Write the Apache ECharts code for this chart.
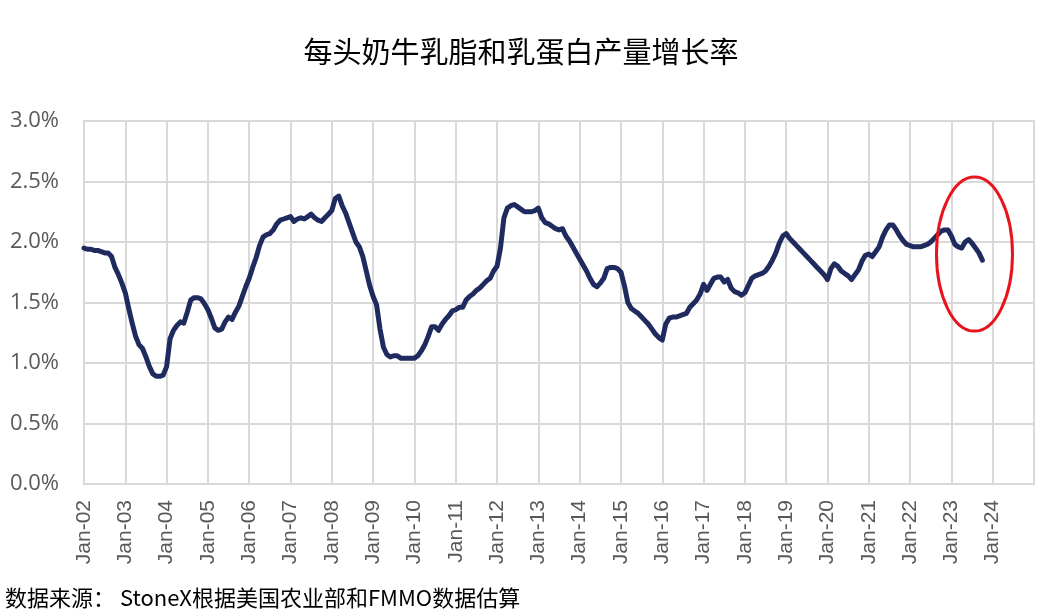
<!DOCTYPE html>
<html>
<head>
<meta charset="utf-8">
<script src="https://cdn.jsdelivr.net/npm/echarts@6/dist/echarts.min.js"></script>
<style>
  html, body { margin: 0; padding: 0; background: #ffffff; }
  #chart { width: 1042px; height: 614px; }
</style>
</head>
<body>
<div id="chart"></div>
<script>
// years on the axis (Jan-02 ... Jan-25), monthly points
const years = ["02","03","04","05","06","07","08","09","10","11","12","13","14","15","16","17","18","19","20","21","22","23","24","25"];
const monthNames = ["Jan","Feb","Mar","Apr","May","Jun","Jul","Aug","Sep","Oct","Nov","Dec"];

// 每头奶牛乳脂和乳蛋白产量增长率 (%), monthly from Jan-02 to Oct-23
const y2002 = [1.95, 1.94, 1.94, 1.93, 1.93, 1.92, 1.91, 1.91, 1.88, 1.79, 1.73, 1.66];
const y2003 = [1.58, 1.45, 1.33, 1.22, 1.15, 1.12, 1.05, 0.97, 0.91, 0.89, 0.89, 0.90];
const y2004 = [0.97, 1.20, 1.27, 1.31, 1.34, 1.33, 1.42, 1.52, 1.54, 1.54, 1.53, 1.49];
const y2005 = [1.44, 1.37, 1.29, 1.27, 1.28, 1.34, 1.38, 1.36, 1.42, 1.47, 1.55, 1.63];
const y2006 = [1.70, 1.79, 1.87, 1.97, 2.04, 2.06, 2.07, 2.10, 2.15, 2.18, 2.19, 2.20];
const y2007 = [2.21, 2.17, 2.19, 2.20, 2.19, 2.21, 2.23, 2.20, 2.18, 2.17, 2.20, 2.23];
const y2008 = [2.26, 2.36, 2.38, 2.30, 2.24, 2.16, 2.08, 2.00, 1.96, 1.88, 1.76, 1.64];
const y2009 = [1.55, 1.48, 1.28, 1.13, 1.07, 1.05, 1.06, 1.06, 1.04, 1.04, 1.04, 1.04];
const y2010 = [1.04, 1.06, 1.10, 1.15, 1.22, 1.30, 1.30, 1.27, 1.32, 1.36, 1.39, 1.43];
const y2011 = [1.44, 1.46, 1.46, 1.52, 1.55, 1.57, 1.60, 1.62, 1.65, 1.68, 1.70, 1.76];
const y2012 = [1.80, 1.95, 2.20, 2.28, 2.30, 2.31, 2.29, 2.27, 2.25, 2.25, 2.25, 2.26];
const y2013 = [2.28, 2.20, 2.16, 2.15, 2.13, 2.11, 2.10, 2.11, 2.05, 2.01, 1.96, 1.91];
const y2014 = [1.86, 1.81, 1.76, 1.70, 1.65, 1.63, 1.66, 1.70, 1.78, 1.79, 1.79, 1.78];
const y2015 = [1.75, 1.64, 1.50, 1.45, 1.43, 1.41, 1.38, 1.35, 1.32, 1.28, 1.24, 1.21];
const y2016 = [1.19, 1.32, 1.37, 1.38, 1.38, 1.39, 1.40, 1.41, 1.46, 1.49, 1.52, 1.57];
const y2017 = [1.65, 1.60, 1.65, 1.70, 1.71, 1.71, 1.67, 1.69, 1.62, 1.59, 1.58, 1.56];
const y2018 = [1.58, 1.64, 1.70, 1.72, 1.73, 1.74, 1.76, 1.80, 1.85, 1.91, 1.99, 2.05];
const y2019 = [2.07, 2.03, 2.00, 1.97, 1.94, 1.91, 1.88, 1.85, 1.82, 1.79, 1.76, 1.73];
const y2020 = [1.69, 1.78, 1.82, 1.80, 1.76, 1.74, 1.72, 1.69, 1.73, 1.77, 1.84, 1.89];
const y2021 = [1.90, 1.88, 1.92, 1.96, 2.04, 2.10, 2.14, 2.14, 2.10, 2.05, 2.01, 1.98];
const y2022 = [1.97, 1.96, 1.96, 1.96, 1.97, 1.98, 2.00, 2.03, 2.06, 2.09, 2.10, 2.10];
const y2023 = [2.05, 1.98, 1.96, 1.95, 2.00, 2.02, 1.99, 1.95, 1.91, 1.85];

// y axis ticks
const yTicks = [0, 0.5, 1.0, 1.5, 2.0, 2.5, 3.0];

const seriesValues = [].concat(
  y2002, y2003, y2004, y2005, y2006, y2007, y2008, y2009, y2010, y2011, y2012,
  y2013, y2014, y2015, y2016, y2017, y2018, y2019, y2020, y2021, y2022, y2023
);

// month categories, last one is Jan-25 (right border of the plot)
let categories = [];
for (let i = 0; i < years.length; i++) {
  for (let j = 0; j < 12; j++) {
    categories.push(monthNames[j] + "-" + years[i]);
    if (i === years.length - 1) break;
  }
}

const sourceNote = {
  type: "text",
  left: 5,
  top: 587,
  style: {
    text: "数据来源： StoneX根据美国农业部和FMMO数据估算",
    font: '22px "Noto Sans CJK SC"',
    fill: "#000000",
  },
};

var myChart = echarts.init(document.getElementById("chart"));
var option = {
  backgroundColor: "#ffffff",
  animation: false,
  title: {
    text: "每头奶牛乳脂和乳蛋白产量增长率",
    left: "center",
    top: 32,
    textStyle: {
      fontFamily: "Noto Sans CJK SC",
      fontSize: 29,
      fontWeight: "normal",
      color: "#000000",
    },
  },
  grid: {
    show: true,
    left: 84,
    right: 8,
    top: 121,
    bottom: 130,
    containLabel: false,
    borderColor: "#d9d9d9",
    borderWidth: 2,
  },
  xAxis: {
    type: "category",
    data: categories,
    boundaryGap: false,
    axisLine: { lineStyle: { color: "#d9d9d9", width: 2 } },
    axisTick: { show: false },
    splitLine: {
      show: true,
      interval: function (index) { return index % 12 === 0; },
      lineStyle: { color: "#d9d9d9", width: 2 },
    },
    axisLabel: {
      rotate: 90,
      margin: 16,
      interval: function (index) { return index % 12 === 0 && index < categories.length - 1; },
      fontFamily: "Liberation Sans",
      fontSize: 21,
      color: "#595959",
    },
  },
  yAxis: {
    type: "value",
    min: yTicks[0],
    max: yTicks[yTicks.length - 1],
    interval: 0.5,
    axisLine: { show: false },
    axisTick: { show: false },
    splitLine: { lineStyle: { color: "#d9d9d9", width: 2 } },
    axisLabel: {
      margin: 25,
      fontFamily: "Open Sans",
      fontSize: 22,
      color: "#595959",
      formatter: function (v) { return v.toFixed(1) + "%"; },
    },
  },
  series: [
    {
      name: "增长率",
      type: "line",
      data: seriesValues,
      showSymbol: false,
      smooth: false,
      color: "#1f2a5e",
      lineStyle: { width: 5, color: "#1f2a5e", join: "round", cap: "round" },
    },
  ],
  graphic: [sourceNote],
};
myChart.setOption(option);

// red ellipse around the latest months
var c = myChart.convertToPixel({ xAxisIndex: 0, yAxisIndex: 0 }, [259, 1.9]);
myChart.setOption({
  graphic: [
    sourceNote,
    {
      type: "ellipse",
      shape: { cx: c[0] - 1, cy: c[1], rx: 38, ry: 77 },
      style: { fill: "none", stroke: "#e8141c", lineWidth: 3 },
      z: 10,
    },
  ],
});
</script>
</body>
</html>
